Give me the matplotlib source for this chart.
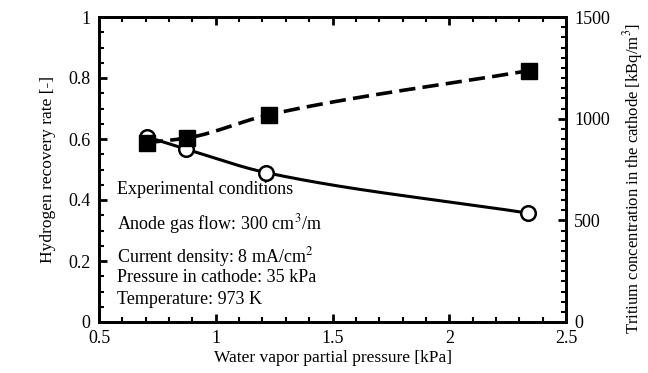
import numpy as np
import matplotlib
matplotlib.use("Agg")
import matplotlib.pyplot as plt
from matplotlib.ticker import MultipleLocator

plt.rcParams['font.family'] = ['Liberation Serif', 'DejaVu Serif']
plt.rcParams['mathtext.fontset'] = 'stix'

# Datos
presion = [0.705, 0.872, 1.215, 2.337]
recuperacion = [0.607, 0.567, 0.490, 0.357]
presion_tritio = [0.705, 0.877, 1.230, 2.340]
tritio = [882, 905, 1020, 1236]

condiciones = ["Experimental conditions",
               "Anode gas flow: 300 cm$^3$/m",
               "Current density: 8 mA/cm$^2$",
               "Pressure in cathode: 35 kPa",
               "Temperature: 973 K"]


def pchip(x, y, xs):
    # interpolacion monotona (sin sobrepasos) para dibujar la curva suave
    x = np.asarray(x, float)
    y = np.asarray(y, float)
    h = np.diff(x)
    d = np.diff(y) / h
    n = len(x)
    m = np.zeros(n)
    for k in range(1, n - 1):
        if d[k - 1] * d[k] > 0:
            w1 = 2 * h[k] + h[k - 1]
            w2 = h[k] + 2 * h[k - 1]
            m[k] = (w1 + w2) / (w1 / d[k - 1] + w2 / d[k])
    m[0] = d[0]
    m[-1] = d[-1]
    out = np.empty_like(xs)
    for i, xv in enumerate(xs):
        k = min(np.searchsorted(x, xv) - 1, n - 2)
        k = max(k, 0)
        t = (xv - x[k]) / h[k]
        h00 = 2 * t**3 - 3 * t**2 + 1
        h10 = t**3 - 2 * t**2 + t
        h01 = -2 * t**3 + 3 * t**2
        h11 = t**3 - t**2
        out[i] = h00 * y[k] + h10 * h[k] * m[k] + h01 * y[k + 1] + h11 * h[k] * m[k + 1]
    return out


fig = plt.figure(figsize=(6.48, 3.73), dpi=100)
ax = fig.add_axes([99 / 648, 1 - 322 / 373, 467 / 648, 305 / 373])
ax2 = ax.twinx()

xs = np.linspace(presion[0], presion[-1], 300)
ax.plot(xs, pchip(presion, recuperacion, xs), color='black', lw=2.2, zorder=2)
ax.plot(presion, recuperacion, 'o', ms=10.5, mfc='white', mec='black', mew=1.8, zorder=3)

xs2 = np.linspace(presion_tritio[0], presion_tritio[-1], 300)
ax2.plot(xs2, pchip(presion_tritio, tritio, xs2), color='black', lw=2.6, dashes=(4.5, 2), zorder=2)
ax2.plot(presion_tritio, tritio, 's', ms=12, color='black', zorder=3)

ax.set_xlim(0.5, 2.5)
ax.set_ylim(0, 1)
ax2.set_ylim(0, 1500)

ax.xaxis.set_minor_locator(MultipleLocator(0.1))
ax.yaxis.set_minor_locator(MultipleLocator(0.05))
ax2.yaxis.set_major_locator(MultipleLocator(500))
ax2.yaxis.set_minor_locator(MultipleLocator(50))
ax.set_xticks([0.5, 1, 1.5, 2, 2.5])
ax.set_xticklabels(['0.5', '1', '1.5', '2', '2.5'])
ax.set_yticks([0, 0.2, 0.4, 0.6, 0.8, 1])
ax.set_yticklabels(['0', '0.2', '0.4', '0.6', '0.8', '1'])

ax.tick_params(axis='x', which='both', direction='in', top=True, labelsize=13, pad=6)
ax.tick_params(axis='y', which='both', direction='in', right=False, labelsize=13, pad=6)
ax2.tick_params(axis='y', which='both', direction='in', labelsize=13, pad=6)
for a in (ax, ax2):
    a.tick_params(which='major', length=6, width=2)
    a.tick_params(which='minor', length=3.5, width=1.5)
    for s in a.spines.values():
        s.set_linewidth(2)

ax.set_xlabel("Water vapor partial pressure [kPa]", fontsize=12.5, labelpad=2)
ax.set_ylabel("Hydrogen recovery rate [-]", fontsize=12.5, labelpad=9)
ax2.set_ylabel("Tritium concentration in the cathode [kBq/m$^3$]", fontsize=12)
ax2.yaxis.set_label_coords(1.117, 0.47)

ys = [190, 224, 257, 278, 299]
for t, y in zip(condiciones, ys):
    fig.text(117 / 648, 1 - y / 373, t, fontsize=13, va='center', ha='left')

fig.savefig("out.png", dpi=100)
